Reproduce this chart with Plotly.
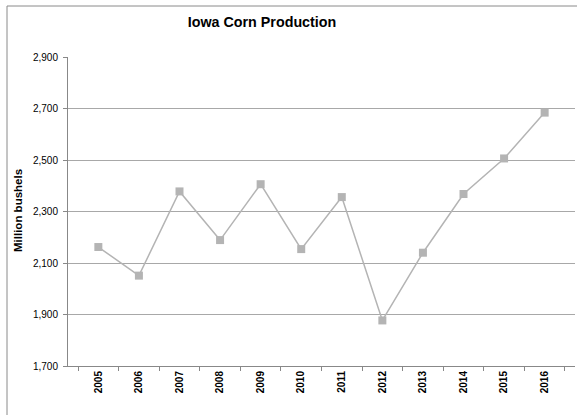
import plotly.graph_objects as go

years = ["2005", "2006", "2007", "2008", "2009", "2010", "2011", "2012", "2013", "2014", "2015", "2016"]
production = [2162, 2051, 2378, 2189, 2406, 2154, 2356, 1877, 2140, 2368, 2506, 2684]
y_ticks = [1700, 1900, 2100, 2300, 2500, 2700, 2900]

W, H = 577, 415
L, R, T, B = 68, 2, 57, 49

fig = go.Figure()
fig.add_trace(go.Scatter(
    x=years, y=production, mode="lines+markers",
    line=dict(color="#b4b4b4", width=1.5),
    marker=dict(symbol="square", size=8, color="#b4b4b4"),
    showlegend=False, cliponaxis=False, hoverinfo="skip",
))

pw = W - L - R
ph = H - T - B
fig.update_layout(
    width=W, height=H,
    margin=dict(l=L, r=R, t=T, b=B, pad=0, autoexpand=False),
    paper_bgcolor="white", plot_bgcolor="white",
    font=dict(family="Liberation Sans, Arial, sans-serif", color="#000000", size=10),
    title=dict(text="<b>Iowa Corn Production</b>", x=262 / W, xanchor="center",
               y=1 - 22 / H, yanchor="middle", font=dict(size=14.3, color="#000000")),
    xaxis=dict(
        type="category", tickangle=-90, tickson="boundaries",
        ticks="outside", ticklen=4, tickcolor="#888888",
        showline=True, linecolor="#888888", linewidth=1,
        showgrid=False, tickfont=dict(size=10, family="Liberation Sans, Arial, sans-serif"),
        tickprefix="<b>", ticksuffix="</b>", automargin=False,
    ),
    yaxis=dict(
        range=[1700, 2900], tickvals=y_ticks, tickformat=",d",
        ticks="outside", ticklen=4, tickcolor="#888888",
        showline=True, linecolor="#888888", linewidth=1,
        showgrid=True, gridcolor="#a8a8a8", gridwidth=1,
        zeroline=False, tickfont=dict(size=10), ticklabelstandoff=3,
        automargin=False,
    ),
    annotations=[
        dict(text="<b>Million bushels</b>", xref="paper", yref="paper",
             x=(18 - L) / pw, y=(366 - 211) / ph, xanchor="center", yanchor="middle",
             textangle=-90, showarrow=False, font=dict(size=11.5, color="#000000")),
    ],
    shapes=[
        dict(type="line", xref="paper", yref="paper",
             x0=(7 - L) / pw, x1=(7 - L) / pw, y0=-2, y1=(H - B - 6) / ph,
             line=dict(color="#8a8a8a", width=1)),
        dict(type="line", xref="paper", yref="paper",
             x0=(7 - L) / pw, x1=3, y0=(H - B - 6) / ph, y1=(H - B - 6) / ph,
             line=dict(color="#8a8a8a", width=1)),
    ],
)

fig.write_html("out.html", config={"displayModeBar": False},
               post_script="document.body.style.margin='0';document.body.style.overflow='hidden';")
